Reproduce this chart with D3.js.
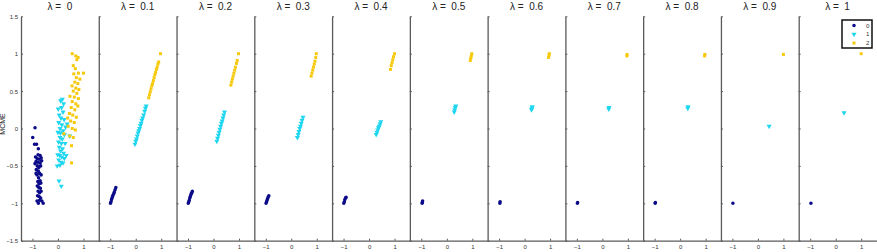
<!DOCTYPE html>
<html>
<head>
<meta charset="utf-8">
<script src="https://cdn.jsdelivr.net/npm/d3@7"></script>
<style>
  body { margin: 0; background: #fff; }
  svg { font-family: "Liberation Sans", Arial, sans-serif; }
  .axis path, .axis line { stroke: #5a5a5a; }
  .axis text { fill: #333; font-size: 6px; }
  .title { font-size: 10px; fill: #222; }
</style>
</head>
<body>
<div id="chart"></div>
<script>
var lambdas = ["0", "0.1", "0.2", "0.3", "0.4", "0.5", "0.6", "0.7", "0.8", "0.9", "1"];
var classLabels = ["0", "1", "2"];
var xTicks = [-1, 0, 1];
var yTicks = [-1.5, -1, -0.5, 0, 0.5, 1, 1.5];
var yLabel = "MCME";

// class 0 points, one list per lambda
var class0 = [
  [[-0.9,0.01],[-0.99,-0.12],[-0.92,-0.21],[-0.84,-0.21],[-0.77,-0.27],[-0.78,-0.35],[-0.7,-0.36],[-0.88,-0.38],[-0.82,-0.4],[-0.74,-0.41],[-0.66,-0.39],[-0.86,-0.44],[-0.79,-0.45],[-0.7,-0.46],[-0.64,-0.43],[-0.81,-0.5],[-0.75,-0.52],[-0.68,-0.5],[-0.85,-0.55],[-0.77,-0.57],[-0.72,-0.6],[-0.82,-0.62],[-0.76,-0.66],[-0.7,-0.7],[-0.79,-0.71],[-0.74,-0.74],[-0.67,-0.73],[-0.81,-0.77],[-0.75,-0.79],[-0.69,-0.8],[-0.78,-0.84],[-0.72,-0.86],[-0.66,-0.84],[-0.8,-0.9],[-0.74,-0.91],[-0.68,-0.93],[-0.82,-0.97],[-0.77,-1.0],[-0.63,-0.97],[-0.58,-1.0],[-0.72,-0.96],[-0.86,-0.6],[-0.66,-0.62],[-0.9,-0.47]],
  [[-0.99,-1.0],[-0.97,-0.98],[-0.95,-0.95],[-0.93,-0.93],[-0.91,-0.91],[-0.89,-0.89],[-0.86,-0.87],[-0.84,-0.85],[-0.81,-0.82],[-0.78,-0.79]],
  [[-0.99,-1.0],[-0.97,-0.98],[-0.95,-0.96],[-0.93,-0.93],[-0.91,-0.91],[-0.89,-0.89],[-0.87,-0.87],[-0.85,-0.86],[-0.83,-0.84]],
  [[-0.99,-1.0],[-0.97,-0.98],[-0.95,-0.96],[-0.93,-0.94],[-0.91,-0.92],[-0.88,-0.9]],
  [[-0.99,-1.0],[-0.97,-0.98],[-0.95,-0.95],[-0.92,-0.93],[-0.9,-0.92]],
  [[-0.97,-1.0],[-0.96,-0.99],[-0.95,-0.97]],
  [[-0.97,-1.0],[-0.96,-0.98]],
  [[-0.98,-1.0],[-0.97,-0.99]],
  [[-0.98,-1.0],[-0.97,-0.99]],
  [[-0.98,-1.0]],
  [[-0.97,-1.0]]
];

var class1 = [
  [[0.17,0.39],[0.1,0.37],[0.22,0.33],[0.01,0.26],[0.14,0.28],[0.2,0.22],[0.05,0.18],[0.12,0.14],[0.24,0.12],[0.03,0.08],[0.15,0.05],[0.3,0.02],[0.36,0.06],[0.08,0.0],[0.2,-0.03],[0.1,-0.06],[0.25,-0.08],[0.46,-0.1],[0.08,-0.12],[0.17,-0.14],[0.02,-0.18],[0.13,-0.2],[0.28,-0.2],[0.05,-0.25],[0.18,-0.27],[0.1,-0.3],[0.22,-0.33],[-0.01,-0.35],[0.07,-0.36],[0.15,-0.38],[0.25,-0.4],[0.03,-0.42],[0.12,-0.45],[0.2,-0.46],[-0.03,-0.5],[0.08,-0.49],[0.04,-0.7],[0.13,-0.77],[0.32,-0.36],[0.0,-0.05]],
  [[-0.03,-0.21],[0.0,-0.17],[0.03,-0.14],[0.06,-0.1],[0.09,-0.06],[0.12,-0.03],[0.15,0.0],[0.18,0.04],[0.21,0.07],[0.24,0.11],[0.27,0.14],[0.31,0.18],[0.35,0.23],[0.38,0.27],[0.41,0.3]],
  [[0.13,-0.17],[0.16,-0.13],[0.19,-0.09],[0.22,-0.05],[0.25,-0.01],[0.28,0.03],[0.31,0.07],[0.34,0.1],[0.37,0.14],[0.4,0.18],[0.43,0.22]],
  [[0.24,-0.12],[0.27,-0.08],[0.3,-0.04],[0.33,0.0],[0.36,0.03],[0.39,0.07],[0.42,0.11],[0.46,0.15]],
  [[0.28,-0.08],[0.31,-0.05],[0.34,-0.02],[0.37,0.01],[0.4,0.03],[0.43,0.06],[0.46,0.09]],
  [[0.29,0.22],[0.31,0.25],[0.33,0.28],[0.35,0.3]],
  [[0.27,0.25],[0.29,0.27],[0.3,0.29]],
  [[0.25,0.26],[0.26,0.28]],
  [[0.3,0.27],[0.31,0.29]],
  [[0.44,0.03]],
  [[0.33,0.21]]
];

var class2 = [
  [[0.56,1.0],[0.7,0.97],[0.74,0.92],[0.79,0.95],[0.6,0.84],[0.68,0.8],[0.8,0.74],[1.0,0.74],[0.62,0.73],[0.72,0.68],[0.86,0.66],[0.66,0.62],[0.78,0.6],[0.55,0.57],[0.7,0.54],[0.82,0.52],[0.6,0.5],[0.74,0.47],[0.47,0.43],[0.64,0.42],[0.8,0.4],[0.56,0.36],[0.7,0.33],[0.52,0.28],[0.66,0.25],[0.78,0.3],[0.45,0.2],[0.58,0.18],[0.72,0.15],[0.5,0.1],[0.64,0.08],[0.4,0.03],[0.56,0.0],[0.68,-0.02],[0.23,-0.07],[0.46,-0.1],[0.6,-0.12],[0.53,-0.23],[0.53,-0.46],[0.38,0.14]],
  [[0.51,0.41],[0.54,0.45],[0.57,0.49],[0.6,0.53],[0.63,0.57],[0.66,0.6],[0.69,0.64],[0.72,0.68],[0.75,0.72],[0.78,0.75],[0.81,0.79],[0.84,0.82],[0.87,0.86],[0.9,0.89],[0.97,1.0]],
  [[0.68,0.58],[0.71,0.62],[0.74,0.66],[0.77,0.7],[0.8,0.74],[0.83,0.78],[0.86,0.82],[0.9,0.87],[0.93,0.91],[0.98,1.0]],
  [[0.78,0.7],[0.81,0.74],[0.84,0.78],[0.87,0.82],[0.9,0.86],[0.93,0.9],[0.96,0.95],[0.98,1.0]],
  [[0.84,0.79],[0.87,0.84],[0.9,0.88],[0.93,0.92],[0.96,0.96],[1.0,1.0]],
  [[0.92,0.91],[0.94,0.94],[0.96,0.97],[0.98,1.0]],
  [[0.94,0.95],[0.96,0.98],[0.97,1.0]],
  [[0.96,0.97],[0.97,0.99]],
  [[0.96,0.97],[0.97,0.99]],
  [[1.0,0.99]],
  [[1.0,1.0]]
];

var colors = ["#0b0b8a", "#1fd6f0", "#f7c90d"];

var width = 877, height = 252;
var marginLeft = 21, panelW = 77.77, plotTop = 16.3, plotBottom = 240.7;

var svg = d3.select("#chart").append("svg")
    .attr("width", width)
    .attr("height", height);

var x = d3.scaleLinear().domain([-1.45, 1.6]).range([0, panelW]);
var y = d3.scaleLinear().domain([-1.5, 1.5]).range([plotBottom, plotTop]);

var sym = [
  d3.symbol().type(d3.symbolCircle).size(10),
  d3.symbol().type(d3.symbolTriangle).size(11),
  d3.symbol().type(d3.symbolSquare).size(9)
];
var classes = [class0, class1, class2];

lambdas.forEach(function(lam, i) {
  var g = svg.append("g")
      .attr("transform", "translate(" + (marginLeft + panelW * i) + ",0)");

  g.append("g")
      .attr("class", "axis")
      .attr("transform", "translate(0," + plotBottom + ")")
      .call(d3.axisBottom(x).tickValues(xTicks).tickSize(-2).tickPadding(4)
        .tickSizeOuter(0).tickFormat(function(d) { return d === 0 ? "0" : d3.format("d")(d).replace("-", "\u2212"); }));

  g.append("g")
      .attr("class", "axis")
      .call(d3.axisLeft(y).tickValues(yTicks).tickSize(-2).tickPadding(3)
        .tickSizeOuter(0).tickFormat(function(d) { return i === 0 ? String(d).replace("-", "\u2212") : ""; }));

  g.selectAll(".axis .domain").attr("stroke-width", 1.3);

  g.append("text")
      .attr("class", "title")
      .attr("x", panelW / 2)
      .attr("y", 10)
      .attr("text-anchor", "middle")
      .attr("xml:space", "preserve")
      .text("\u03bb =  " + lam);

  classes.forEach(function(cls, c) {
    g.selectAll(".pt" + c)
        .data(cls[i])
      .enter().append("path")
        .attr("class", "pt" + c)
        .attr("d", sym[c])
        .attr("fill", colors[c])
        .attr("transform", function(d) {
          return "translate(" + x(d[0]) + "," + y(d[1]) + ")" + (c === 1 ? " rotate(180)" : "");
        });
  });
});

svg.append("text")
    .attr("transform", "translate(5,124) rotate(-90)")
    .attr("text-anchor", "middle")
    .attr("font-size", 7)
    .attr("fill", "#222")
    .text(yLabel);

// legend
var lg = svg.append("g").attr("transform", "translate(842,20)");
lg.append("rect")
    .attr("width", 30)
    .attr("height", 28)
    .attr("fill", "#fff")
    .attr("stroke", "#111")
    .attr("stroke-width", 1.5);
classLabels.forEach(function(lbl, c) {
  lg.append("path")
      .attr("d", sym[c])
      .attr("fill", colors[c])
      .attr("transform", "translate(12," + (5.5 + c * 8.8) + ")" + (c === 1 ? " rotate(180)" : ""));
  lg.append("text")
      .attr("x", 24)
      .attr("y", 7.5 + c * 8.8)
      .attr("font-size", 6)
      .attr("fill", "#333")
      .text(lbl);
});
</script>
</body>
</html>
